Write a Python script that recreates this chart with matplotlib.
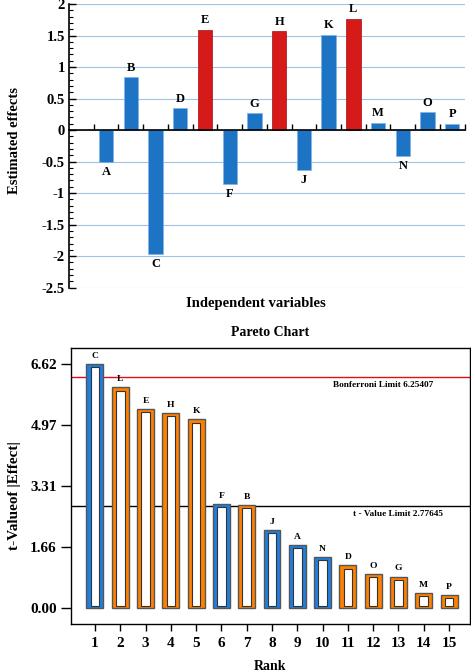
import numpy as np
import matplotlib
matplotlib.use("Agg")
from matplotlib import pyplot as plt
from matplotlib.ticker import MultipleLocator

plt.rcParams['font.family'] = ['Liberation Serif', 'DejaVu Serif']
plt.rcParams['font.weight'] = 'bold'

# efektai (viršutinis grafikas)
kintamieji = ['A', 'B', 'C', 'D', 'E', 'F', 'G', 'H', 'J', 'K', 'L', 'M', 'N', 'O', 'P']
efektai = [-0.51, 0.84, -1.97, 0.35, 1.59, -0.85, 0.27, 1.57, -0.63, 1.51, 1.77, 0.12, -0.41, 0.28, 0.10]
reiksmingi = ['E', 'H', 'L']

# Pareto (apatinis grafikas)
rangas = list(range(1, 16))
pareto_raides = ['C', 'L', 'E', 'H', 'K', 'F', 'B', 'J', 'A', 'N', 'D', 'O', 'G', 'M', 'P']
t_reiksmes = [6.62, 5.99, 5.40, 5.30, 5.12, 2.83, 2.80, 2.12, 1.72, 1.39, 1.17, 0.94, 0.86, 0.42, 0.37]
neigiami = ['C', 'F', 'J', 'A', 'N']
y_ticks = [0.0, 1.655, 3.31, 4.965, 6.62]
y_tick_labels = ['0.00', '1.66', '3.31', '4.97', '6.62']
bonferroni = 6.25407
t_riba = 2.77645

fig = plt.figure(figsize=(4.71, 6.72), dpi=100)

# ---- viršutinis ----
ax1 = fig.add_axes([0.1465, 0.572, 0.840, 0.422])
x = np.arange(1, len(kintamieji) + 1)
spalvos = ['#D61A1A' if k in reiksmingi else '#1E74C4' for k in kintamieji]
krastai = ['#A01010' if k in reiksmingi else '#7FB3E3' for k in kintamieji]
ax1.bar(x, efektai, width=0.58, color=spalvos, edgecolor=krastai, linewidth=0.5, zorder=3)
for xi, v, k in zip(x, efektai, kintamieji):
    if v >= 0:
        ax1.annotate(k, (xi, v), xytext=(0, 2.5), textcoords='offset points',
                     ha='center', va='bottom', fontsize=9, fontweight='bold')
    else:
        ax1.annotate(k, (xi, v), xytext=(0, -3), textcoords='offset points',
                     ha='center', va='top', fontsize=9, fontweight='bold')
ax1.set_xlim(-0.5, 15.5)
ax1.set_ylim(-2.5, 2)
ax1.set_yticks(np.arange(-2.5, 2.01, 0.5))
ax1.set_yticklabels(['%g' % t for t in np.arange(-2.5, 2.01, 0.5)], fontsize=10.5, fontweight='bold')
ax1.yaxis.set_minor_locator(MultipleLocator(0.1))
ax1.tick_params(axis='y', which='major', direction='in', length=5, width=1, pad=3)
ax1.tick_params(axis='y', which='minor', direction='in', length=3, width=0.8)
ax1.set_xticks(np.arange(0.5, 15.6, 1))
ax1.set_xticklabels([])
ax1.tick_params(axis='x', direction='in', length=4, width=1)
ax1.grid(axis='y', color='#9DC3E6', linewidth=0.8, zorder=0)
ax1.spines['top'].set_visible(False)
ax1.spines['right'].set_visible(False)
ax1.spines['bottom'].set_position(('data', 0))
ax1.spines['bottom'].set_zorder(4)
ax1.spines['left'].set_linewidth(1.2)
ax1.spines['bottom'].set_linewidth(1.2)
fig.text(15 / 471, 1 - 140 / 672, 'Estimated effects', rotation=90, ha='center', va='center',
         fontsize=10.5, fontweight='bold')
fig.text(256 / 471, 1 - 303 / 672, 'Independent variables', ha='center', va='center',
         fontsize=10.5, fontweight='bold')

# ---- apatinis (Pareto) ----
ax2 = fig.add_axes([0.150, 0.071, 0.848, 0.411])
p_spalvos = ['#1F7FE0' if k in neigiami else '#FF8000' for k in pareto_raides]
ax2.bar(rangas, t_reiksmes, width=0.67, color=p_spalvos, edgecolor='#555555', linewidth=1.0, zorder=3)
vidus = [max(v - 0.145, 0.05) for v in t_reiksmes]
ax2.bar(rangas, vidus, width=0.34, bottom=0.055, color='white', edgecolor='#333333', linewidth=0.8, zorder=4)
for r, v, k in zip(rangas, t_reiksmes, pareto_raides):
    ax2.annotate(k, (r, v), xytext=(0, 3), textcoords='offset points',
                 ha='center', va='bottom', fontsize=6.8, fontweight='bold')
ax2.axhline(bonferroni, color='#E01010', linewidth=1.0, zorder=2)
ax2.axhline(t_riba, color='black', linewidth=1.0, zorder=2)
ax2.text(10.41, 6.05, 'Bonferroni Limit %.5f' % bonferroni, fontsize=6.7, fontweight='bold', va='center')
ax2.text(11.2, 2.56, 't - Value Limit %.5f' % t_riba, fontsize=6.7, fontweight='bold', va='center')
ax2.set_xlim(0.04, 15.83)
ax2.set_ylim(-0.43, 7.05)
ax2.set_yticks(y_ticks)
ax2.set_yticklabels(y_tick_labels, fontsize=11, fontweight='bold')
ax2.set_xticks(rangas)
ax2.set_xticklabels([str(r) for r in rangas], fontsize=11, fontweight='bold')
ax2.tick_params(axis='y', direction='out', length=7, width=1, pad=3)
ax2.tick_params(axis='x', direction='out', length=5, width=1, pad=4)
for s in ax2.spines.values():
    s.set_linewidth(1.0)
ax2.set_title('Pareto Chart', fontsize=10, fontweight='bold', pad=9)
fig.text(15 / 471, 1 - 496 / 672, 't-Valueof |Effect|', rotation=90, ha='center', va='center',
         fontsize=11, fontweight='bold')
fig.text(270 / 471, 1 - 666 / 672, 'Rank', ha='center', va='center', fontsize=10, fontweight='bold')

fig.savefig('out.png', dpi=100)
